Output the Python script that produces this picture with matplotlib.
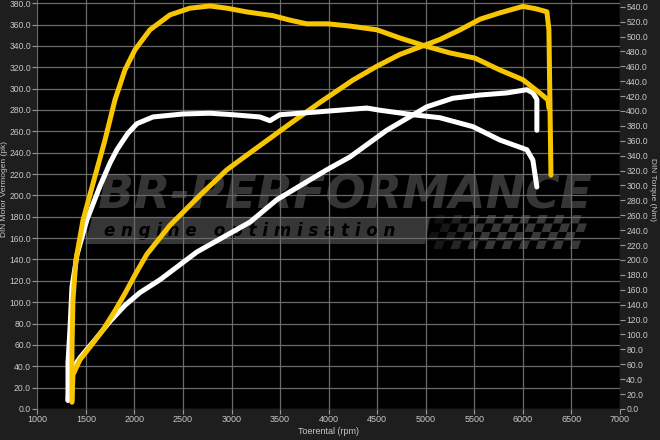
import numpy as np
import matplotlib.pyplot as plt
from matplotlib.patches import Polygon

plt.rcParams['font.family'] = ['Liberation Sans', 'DejaVu Sans']

# tuned run (yellow)
tuned_power_rpm = [1357, 1367, 1439, 1542, 1676, 1800, 1902, 2015, 2129, 2366, 2674, 2952,
                   3086, 3343, 3600, 3909, 4250, 4497, 4733, 5145, 5352, 5558, 5764,
                   6000, 6124, 6247, 6268, 6278, 6289]
tuned_power_pk = [8, 32, 46, 58, 74, 92, 108, 127, 145, 172, 200, 224,
                  233, 250, 267, 287, 308, 321, 332, 346, 355, 365, 371,
                  377, 375, 372, 355, 290, 219]
tuned_torque_rpm = [1357, 1357, 1367, 1398, 1470, 1583, 1697, 1800, 1902, 2005, 2160,
                    2366, 2571, 2777, 2952, 3158, 3426, 3600, 3775, 3992, 4219,
                    4497, 4733, 5001, 5248, 5506, 5764, 6000, 6175, 6258, 6268]
tuned_torque_nm = [9, 79, 146, 200, 253, 307, 361, 415, 455, 482, 509,
                   529, 538, 541, 538, 533, 528, 522, 517, 517, 514,
                   509, 498, 487, 478, 471, 455, 442, 424, 415, 404]

# stock run (white)
stock_power_rpm = [1316, 1326, 1357, 1439, 1596, 1748, 1902, 2057, 2263, 2643, 3190, 3467,
                   3981, 4219, 4598, 5011, 5279, 5558, 5836, 6041, 6103, 6144, 6144]
stock_power_pk = [8, 22, 37, 48, 65, 82, 97, 109, 121, 147, 175, 196,
                  224, 236, 261, 283, 291, 294, 296, 299, 296, 290, 261]
stock_torque_rpm = [1316, 1316, 1336, 1357, 1409, 1511, 1645, 1748, 1820, 1871, 1933,
                    2026, 2191, 2500, 2777, 3014, 3292, 3395, 3497, 3909, 4394,
                    4528, 4867, 5145, 5485, 5764, 6041, 6103, 6144]
stock_torque_nm = [12, 62, 106, 164, 207, 254, 299, 330, 348, 358, 370,
                   383, 392, 396, 397, 395, 392, 387, 395, 399, 404,
                   401, 395, 391, 379, 361, 348, 334, 298]

rpm_ticks = np.arange(1000, 7001, 500)
pk_ticks = np.arange(0, 381, 20)
nm_ticks = np.arange(0, 541, 20)

txt = '#c8c8c8'
yellow = '#f7c600'

fig = plt.figure(figsize=(6.6, 4.4), dpi=100, facecolor='#1e1e1e')
ax = fig.add_axes([0.0565, 0.0705, 0.8829, 0.9295])
ax.set_facecolor('black')
ax2 = ax.twinx()

# watermark (pixel positions -> axes fractions)
def fx(px):
    return (px - 37.3) / 582.7

def fy(py):
    return (409 - py) / 409

ax.text(fx(345), fy(196), 'BR-PERFORMANCE', transform=ax.transAxes, ha='center', va='center',
        fontsize=34, fontweight='bold', style='italic', color='#353535',
        family='DejaVu Sans', zorder=0.1)
band = Polygon([(fx(92), fy(218)), (fx(430), fy(218)), (fx(425), fy(244)), (fx(85), fy(244))],
               closed=True, transform=ax.transAxes, facecolor='#363636', edgecolor='none', zorder=0.1)
ax.add_patch(band)
ax.text(fx(250), fy(231), 'e n g i n e   o p t i m i s a t i o n', transform=ax.transAxes,
        ha='center', va='center', fontsize=12, fontweight='bold', style='italic',
        color='black', family='DejaVu Sans', zorder=0.2)
sq = 8.5
for r in range(4):
    for c in range(18):
        if (r + c) % 2 == 0:
            continue
        x0 = 425 + c * sq + r * 3
        y0 = 249 - r * sq
        a = min(1.0, 0.3 + c / 8)
        pts = [(fx(x0), fy(y0)), (fx(x0 + sq), fy(y0)), (fx(x0 + sq + 3), fy(y0 - sq)),
               (fx(x0 + 3), fy(y0 - sq))]
        ax.add_patch(Polygon(pts, closed=True, transform=ax.transAxes, facecolor='#383838',
                             edgecolor='none', alpha=a, zorder=0.1))

ax.set_axisbelow(True)
ax.grid(True, color='#6a6a6a', linewidth=0.9)

ax.plot(stock_power_rpm, stock_power_pk, color='white', lw=3.6,
        solid_capstyle='round', solid_joinstyle='round', zorder=3)
ax.plot(tuned_power_rpm, tuned_power_pk, color=yellow, lw=3.6,
        solid_capstyle='round', solid_joinstyle='round', zorder=4)
ax2.plot(stock_torque_rpm, stock_torque_nm, color='white', lw=3.6,
         solid_capstyle='round', solid_joinstyle='round')
ax2.plot(tuned_torque_rpm, tuned_torque_nm, color=yellow, lw=3.6,
         solid_capstyle='round', solid_joinstyle='round')

ax.set_xlim(1000, 7000)
ax.set_ylim(0, 383)
ax2.set_ylim(0, 549)
ax.set_xticks(rpm_ticks)
ax.set_xticklabels([str(v) for v in rpm_ticks])
ax.set_yticks(pk_ticks)
ax.set_yticklabels([f'{v:.1f}' for v in pk_ticks])
ax2.set_yticks(nm_ticks)
ax2.set_yticklabels([f'{v:.1f}' for v in nm_ticks])

for a in (ax, ax2):
    a.tick_params(colors='#9a9a9a', labelcolor=txt, labelsize=6.2, length=3.5, width=0.8, pad=1)
    for s in a.spines.values():
        s.set_visible(False)
ax.tick_params(axis='x', labelsize=6.5)

ax.set_xlabel('Toerental (rpm)', color=txt, fontsize=6.5, labelpad=2)
fig.text(0.007, 0.57, 'DIN Motor Vermogen (pk)', color=txt, fontsize=6,
         rotation=90, ha='center', va='center')
fig.text(0.989, 0.57, 'DIN Torque (Nm)', color=txt, fontsize=6,
         rotation=270, ha='center', va='center')

fig.savefig('out.png', dpi=100, facecolor=fig.get_facecolor())
